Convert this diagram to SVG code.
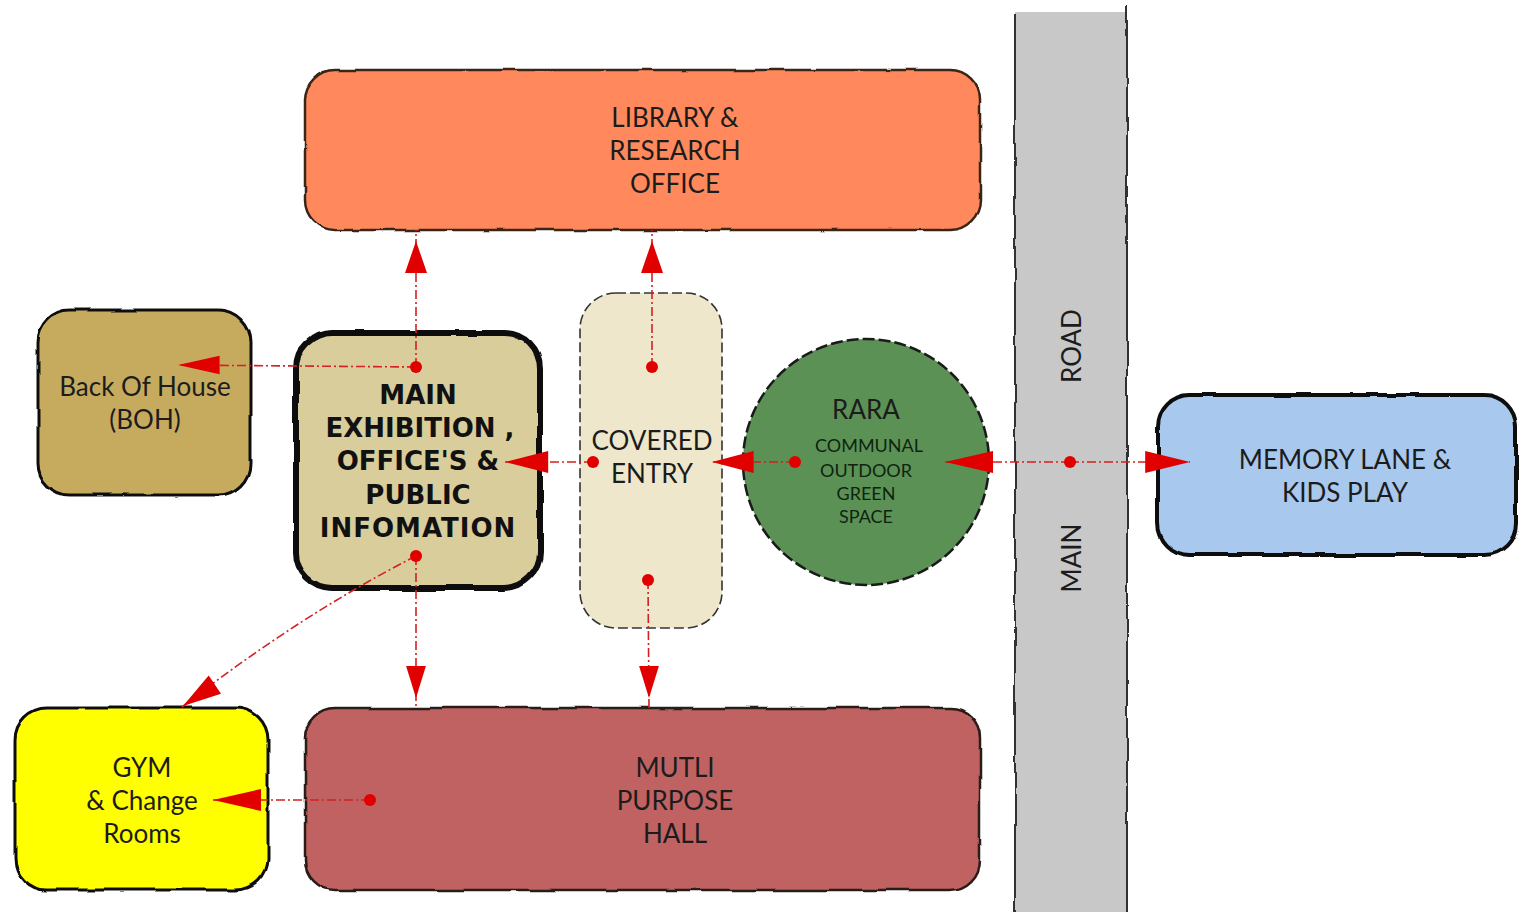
<svg xmlns="http://www.w3.org/2000/svg" xmlns:xlink="http://www.w3.org/1999/xlink" width="1519" height="912" viewBox="0 0 1519 912">
<defs>
<filter id="rough" x="-5%" y="-5%" width="110%" height="110%">
<feTurbulence type="fractalNoise" baseFrequency="0.03" numOctaves="2" seed="3" result="n"/>
<feDisplacementMap in="SourceGraphic" in2="n" scale="4" xChannelSelector="R" yChannelSelector="G"/>
</filter>
<path id="ah" d="M0,0 L-32,-11 L-32,11 Z"/>
<style>
.t{font-family:Lato,"Liberation Sans",sans-serif;font-size:26px;fill:#1c1c1c;text-anchor:middle}
.b{font-family:"DejaVu Sans",Lato,sans-serif;font-size:26px;font-weight:bold;fill:#111;text-anchor:middle}
.s{font-family:Lato,"Liberation Sans",sans-serif;font-size:18px;fill:#0f2410;text-anchor:middle}
.edge{fill:none;stroke:#d42020;stroke-width:1.6;stroke-dasharray:9 3 2 3}
.dot{fill:#e00000}
.head{fill:#e00000}
</style>
</defs>
<rect width="1519" height="912" fill="#fff"/>
<g id="road">
<rect x="1015" y="12" width="112" height="900" fill="#c8c8c8"/>
<g filter="url(#rough)" stroke="#333" stroke-width="2">
<line x1="1015" y1="14" x2="1015" y2="912"/>
<line x1="1127" y1="5" x2="1127" y2="912"/>
</g>
<text class="t" font-size="24" transform="translate(1081,346) rotate(-90)">ROAD</text>
<text class="t" font-size="24" transform="translate(1081,558) rotate(-90)">MAIN</text>
</g>
<g id="library">
<rect x="305" y="70" width="675" height="160" rx="30" fill="#ff895c" stroke="#3a2518" stroke-width="2.5" filter="url(#rough)"/>
<text class="t" x="675" y="127" fill="#2a1a10">LIBRARY &amp;</text>
<text class="t" x="675" y="160">RESEARCH</text>
<text class="t" x="675" y="193">OFFICE</text>
</g>
<g id="boh">
<rect x="38" y="310" width="212" height="185" rx="32" fill="#c6ab5f" stroke="#111" stroke-width="3" filter="url(#rough)"/>
<text class="t" x="145" y="396">Back Of House</text>
<text class="t" x="145" y="429">(BOH)</text>
</g>
<g id="main">
<rect x="296" y="333" width="244" height="255" rx="36" fill="#d9cd9b" stroke="#111" stroke-width="6" filter="url(#rough)"/>
<text class="b" x="418" y="404">MAIN</text>
<text class="b" x="420" y="437">EXHIBITION ,</text>
<text class="b" x="418" y="470">OFFICE'S &amp;</text>
<text class="b" x="418" y="504">PUBLIC</text>
<text class="b" x="418" y="537" letter-spacing="1">INFOMATION</text>
</g>
<g id="entry">
<rect x="580" y="293" width="142" height="335" rx="36" fill="#eee7cb" stroke="#333" stroke-width="1.6" stroke-dasharray="10 4"/>
<text class="t" x="652" y="450">COVERED</text>
<text class="t" x="652" y="483">ENTRY</text>
</g>
<g id="rara">
<circle cx="866" cy="462" r="123" fill="#5b9155" stroke="#1a1a1a" stroke-width="2.5" stroke-dasharray="12 4"/>
<text class="t" x="866" y="419" fill="#15301a">RARA</text>
<text class="s" x="869" y="452">COMMUNAL</text>
<text class="s" x="866" y="477">OUTDOOR</text>
<text class="s" x="866" y="500">GREEN</text>
<text class="s" x="866" y="523">SPACE</text>
</g>
<g id="memory">
<rect x="1158" y="395" width="358" height="160" rx="32" fill="#a9c8ee" stroke="#111" stroke-width="4" filter="url(#rough)"/>
<text class="t" x="1345" y="469">MEMORY LANE &amp;</text>
<text class="t" x="1345" y="502">KIDS PLAY</text>
</g>
<g id="gym">
<rect x="15" y="708" width="253" height="182" rx="32" fill="#ffff00" stroke="#111" stroke-width="3" filter="url(#rough)"/>
<text class="t" x="142" y="777">GYM</text>
<text class="t" x="142" y="810">&amp; Change</text>
<text class="t" x="142" y="843">Rooms</text>
</g>
<g id="hall">
<rect x="305" y="708" width="675" height="182" rx="30" fill="#c06262" stroke="#2a1a18" stroke-width="2.5" filter="url(#rough)"/>
<text class="t" x="675" y="777">MUTLI</text>
<text class="t" x="675" y="810">PURPOSE</text>
<text class="t" x="675" y="843">HALL</text>
</g>
<g id="connectors">
<path class="edge" d="M416,367 L416,230"/>
<path class="edge" d="M416,367 L178,365"/>
<path class="edge" d="M652,367 L652,230"/>
<path class="edge" d="M593,462 L505,462"/>
<path class="edge" d="M795,462 L712,462"/>
<path class="edge" d="M1070,462 L945,462"/>
<path class="edge" d="M1070,462 L1190,462"/>
<path class="edge" d="M416,556 L416,708"/>
<path class="edge" d="M416,556 Q300,615 182,707"/>
<path class="edge" d="M648,580 L649,708"/>
<path class="edge" d="M370,800 L213,800"/>
<use xlink:href="#ah" class="head" transform="translate(416,241) rotate(-90)"/>
<use xlink:href="#ah" class="head" transform="translate(652,241) rotate(-90)"/>
<use xlink:href="#ah" class="head" transform="translate(178,365) rotate(180) scale(1.3,0.85)"/>
<use xlink:href="#ah" class="head" transform="translate(505,462) rotate(180) scale(1.35,1)"/>
<use xlink:href="#ah" class="head" transform="translate(712,462) rotate(180) scale(1.3,1)"/>
<use xlink:href="#ah" class="head" transform="translate(945,462) rotate(180) scale(1.5,1)"/>
<use xlink:href="#ah" class="head" transform="translate(1190,462) scale(1.4,1)"/>
<use xlink:href="#ah" class="head" transform="translate(416,698) rotate(90) scale(1,0.9)"/>
<use xlink:href="#ah" class="head" transform="translate(649,698) rotate(90) scale(1,0.9)"/>
<use xlink:href="#ah" class="head" transform="translate(183,706) rotate(146) scale(1.2,1)"/>
<use xlink:href="#ah" class="head" transform="translate(213,800) rotate(180) scale(1.5,1)"/>
<circle class="dot" cx="416" cy="367" r="6"/>
<circle class="dot" cx="652" cy="367" r="6"/>
<circle class="dot" cx="593" cy="462" r="6"/>
<circle class="dot" cx="795" cy="462" r="6"/>
<circle class="dot" cx="1070" cy="462" r="6"/>
<circle class="dot" cx="416" cy="556" r="6"/>
<circle class="dot" cx="648" cy="580" r="6"/>
<circle class="dot" cx="370" cy="800" r="6"/>
</g>
</svg>
